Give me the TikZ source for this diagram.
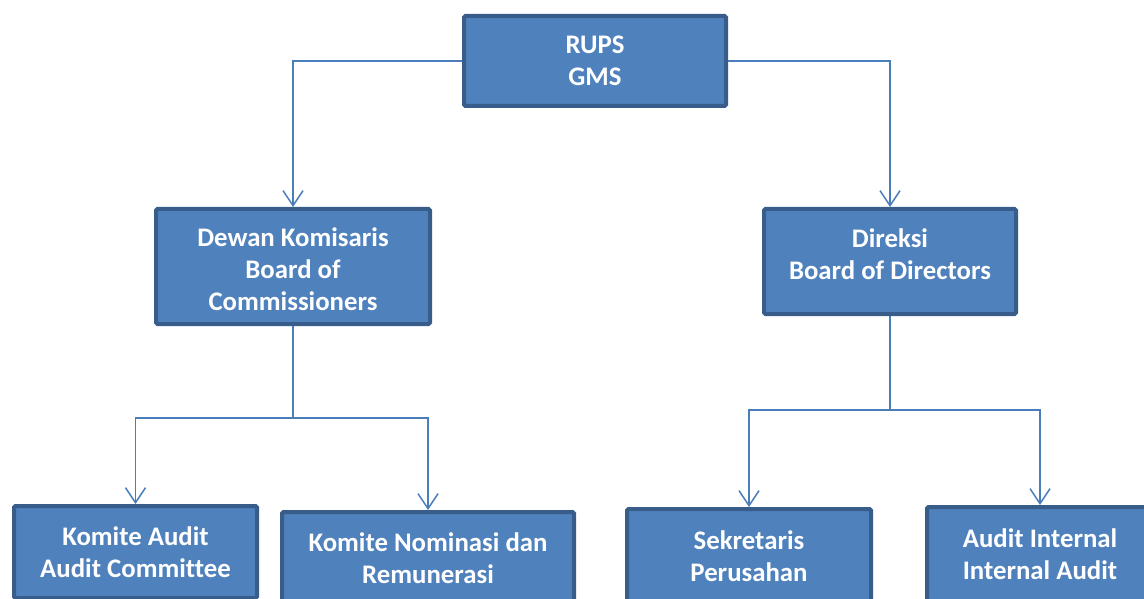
\documentclass[tikz,border=0pt]{standalone}
\usepackage{fontspec}
\setmainfont{Carlito}[Ligatures=NoCommon]
\usetikzlibrary{arrows.meta}
\definecolor{boxfill}{HTML}{4F81BD}
\definecolor{boxline}{HTML}{385D8A}
\definecolor{linkblue}{HTML}{4A7EBB}
\begin{document}
\begin{tikzpicture}[x=1pt, y=-1pt,
  orgbox/.style={draw=boxline, fill=boxfill, line width=4pt, rounded corners=1.5pt,
    text=white, align=center, inner sep=0pt,
    font=\fontsize{26.8}{32}\selectfont\bfseries},
  link/.style={draw=linkblue, line width=1.5pt,
    -{Straight Barb[length=15pt, width=20pt, line width=1.5pt]}},
  trunk/.style={draw=linkblue, line width=1.5pt}]
\useasboundingbox (0,0) rectangle (1144,599);

% Top level
\node[orgbox, minimum width=262pt, minimum height=90pt] (rups) at (595, 61) {RUPS\\GMS};

% Second level
\node[orgbox, minimum width=274pt, minimum height=115pt, text height=89pt] (dekom) at (293, 266.5) {Dewan Komisaris\\Board of\\Commissioners};
\node[orgbox, minimum width=252pt, minimum height=105pt, text depth=14pt] (direksi) at (890, 261.5) {Direksi\\Board of Directors};

% Third level
\node[orgbox, minimum width=243pt, minimum height=92pt] (komaudit) at (135.5, 552) {Komite Audit\\Audit Committee};
\node[orgbox, minimum width=292pt, minimum height=92pt] (komnom) at (428, 558) {Komite Nominasi dan\\Remunerasi};
\node[orgbox, minimum width=244pt, minimum height=94pt] (sekper) at (749, 556) {Sekretaris\\Perusahan};
\node[orgbox, minimum width=226pt, minimum height=94pt] (audint) at (1040, 554) {Audit Internal\\Internal Audit};

% Branch points
\coordinate (dekomsplit) at (293, 418);
\coordinate (direksisplit) at (890, 410);

% Connectors
\draw[link] (rups.west) -| (dekom.north);
\draw[link] (rups.east) -| (direksi.north);
\draw[trunk] (dekom.south) -- (dekomsplit);
\draw[link] (dekomsplit) -| (komaudit.north);
\draw[link] (dekomsplit) -| (komnom.north);
\draw[trunk] (direksi.south) -- (direksisplit);
\draw[link] (direksisplit) -| (sekper.north);
\draw[link] (direksisplit) -| (audint.north);
\end{tikzpicture}
\end{document}
